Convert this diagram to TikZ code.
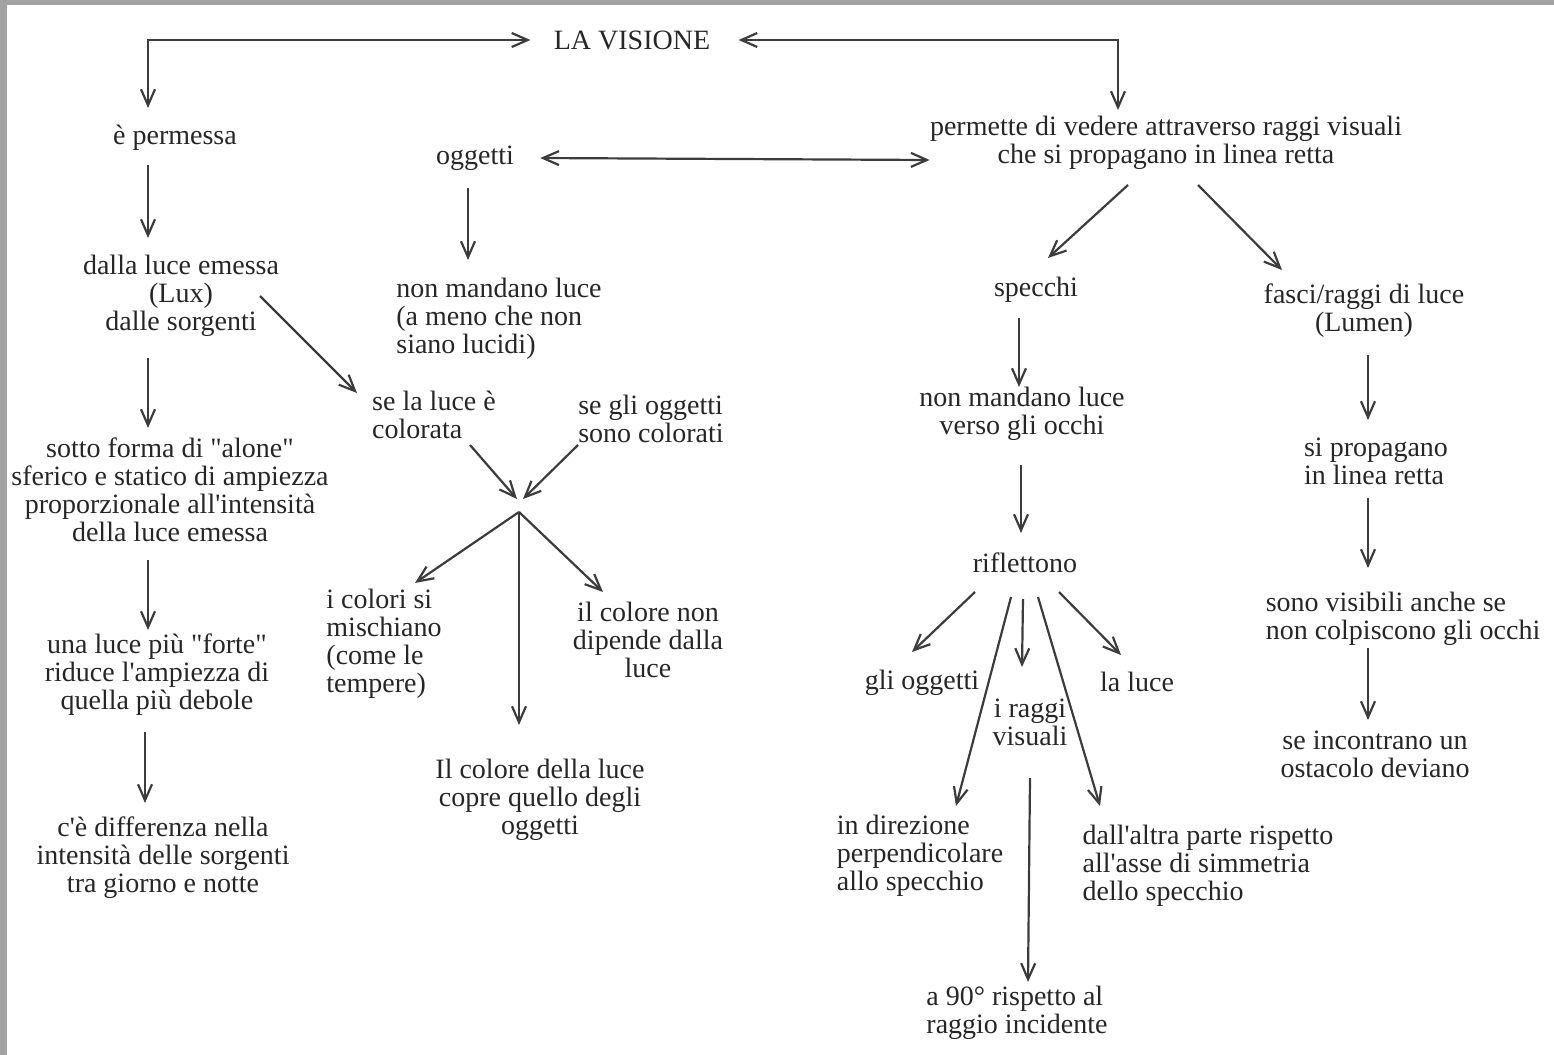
\documentclass[tikz,border=0pt]{standalone}
\usepackage{fontspec}
\setmainfont{Liberation Serif}[Ligatures=TeXOff]
\usepackage{tikz}
\usetikzlibrary{arrows.meta,calc}
\definecolor{visInk}{HTML}{262626}
\definecolor{visLine}{HTML}{3C3C3C}
\definecolor{visFrame}{HTML}{A3A3A3}
\tikzset{
  idea/.style     = {inner sep=0pt, text=visInk, align=center,
                     font=\fontsize{14}{14}\selectfont},
  idealeft/.style = {idea, align=left},
  link/.style     = {-{Straight Barb[length=8pt,width=7pt]}, line width=1.1pt,
                     draw=visLine},
  duallink/.style = {{Straight Barb[length=8pt,width=7pt]}-{Straight Barb[length=8pt,width=7pt]},
                     line width=1.1pt, draw=visLine},
}

\begin{document}
\begin{tikzpicture}[x=0.5pt, y=-0.5pt]
  \useasboundingbox (0,0) rectangle (1554,1055);
  \fill[visFrame] (0,0) rectangle (7,1055);
  \fill[visFrame] (0,0) rectangle (1554,5);

  % top and the three columns
  \node[idea] (vis)   at (632,40)  {LA VISIONE};
  \node[idea] (perm)  at (175,138) {è permessa};
  \node[idea] (ogg)   at (475,158) {oggetti};
  \node[idea] (raggi) at (1166,143)
    {permette di vedere attraverso raggi visuali\\che si propagano in linea retta};

  \node[idea] (dalla) at (181,296) {dalla luce emessa\\(Lux)\\dalle sorgenti};
  \node[idea] (alone) at (170,490)
    {sotto forma di "alone"\\sferico e statico di ampiezza\\proporzionale all'intensità\\della luce emessa};
  \node[idea] (forte) at (157,675)
    {una luce più "forte"\\riduce l'ampiezza di\\quella più debole};
  \node[idea] (diff)  at (163,858)
    {c'è differenza nella\\intensità delle sorgenti\\tra giorno e notte};

  \node[idealeft] (nonm)  at (499,319) {non mandano luce\\(a meno che non\\siano lucidi)};
  \node[idealeft] (secol) at (434,415) {se la luce è\\colorata};
  \node[idealeft] (seogg) at (651,419) {se gli oggetti\\sono colorati};
  \coordinate (mix) at (519,512);
  \node[idealeft] (misch) at (384,644) {i colori si\\mischiano\\(come le\\tempere)};
  \node[idea] (dip)   at (648,640) {il colore non\\dipende dalla\\luce};
  \node[idea] (copre) at (540,800) {Il colore della luce\\copre quello degli\\oggetti};

  \node[idea] (spec)   at (1036,290) {specchi};
  \node[idea] (verso)  at (1022,414) {non mandano luce\\verso gli occhi};
  \node[idea] (rifl)   at (1025,563) {riflettono};
  \node[idea] (glio)   at (922,683)  {gli oggetti};
  \node[idea] (laluce) at (1137,682) {la luce};
  \node[idea] (irv)    at (1030,722) {i raggi\\visuali};
  \node[idealeft] (perp)    at (920,856)  {in direzione\\perpendicolare\\allo specchio};
  \node[idealeft] (asse)    at (1208,866) {dall'altra parte rispetto\\all'asse di simmetria\\dello specchio};
  \node[idealeft] (novanta) at (1017,1013) {a 90° rispetto al\\raggio incidente};

  \node[idea] (fasci)     at (1364,311) {fasci/raggi di luce\\(Lumen)};
  \node[idealeft] (prop)  at (1376,461) {si propagano\\in linea retta};
  \node[idealeft] (visib) at (1403,619) {sono visibili anche se\\non colpiscono gli occhi};
  \node[idea] (ost)       at (1375,754) {se incontrano un\\ostacolo deviano};

  % connectors
  \draw[duallink] ($(vis.west)+(-23,0)$) -| ($(perm)+(-27,-30)$);
  \draw[duallink] ($(vis.east)+(28,0)$) -| ($(raggi)+(-48,-33)$);
  \draw[duallink] ($(ogg.east)+(26,0)$) -- ($(raggi.west)+(0,17)$);

  \draw[link] ($(perm)+(-27,27)$)  -- ($(dalla)+(-33,-58)$);
  \draw[link] ($(dalla)+(79,0)$)   -- ($(secol)+(-77,-22)$);
  \draw[link] ($(dalla)+(-33,62)$) -- ($(alone)+(-22,-62)$);
  \draw[link] ($(alone)+(-22,70)$) -- ($(forte)+(-9,-45)$);
  \draw[link] ($(forte)+(-12,57)$) -- ($(diff)+(-18,-55)$);

  \draw[link] ($(ogg)+(-7,30)$)     -- ($(nonm)+(-31,-59)$);
  \draw[link] ($(secol)+(36,30)$)   -- ($(mix)+(-2,-13)$);
  \draw[link] ($(seogg)+(-73,26)$)  -- ($(mix)+(4,-13)$);
  \draw[link] (mix) -- ($(misch)+(31,-61)$);
  \draw[link] (mix) -- ($(copre)+(-21,-75)$);
  \draw[link] (mix) -- ($(dip)+(-45,-48)$);

  \draw[link] ($(raggi)+(-38,42)$) -- ($(spec)+(12,-32)$);
  \draw[link] ($(raggi)+(32,42)$)  -- ($(fasci)+(-82,-41)$);
  \draw[link] ($(spec)+(-17,28)$)  -- ($(verso)+(-3,-27)$);
  \draw[link] ($(verso)+(-1,51)$)  -- ($(rifl)+(-4,-30)$);
  \draw[link] ($(rifl)+(-50,29)$)  -- ($(glio)+(-10,-31)$);
  \draw[link] ($(rifl)+(-14,34)$)  -- ($(perp)+(36,-50)$);
  \draw[link] ($(rifl)+(-2,36)$)   -- ($(irv)+(-8,-55)$);
  \draw[link] ($(rifl)+(13,34)$)   -- ($(asse)+(-108,-60)$);
  \draw[link] ($(rifl)+(34,29)$)   -- ($(laluce)+(-16,-27)$);
  \draw[link] ($(irv)+(0,56)$)     -- ($(novanta)+(11,-31)$);

  \draw[link] ($(fasci)+(4,44)$)   -- ($(prop)+(-8,-41)$);
  \draw[link] ($(prop)+(-8,37)$)   -- ($(visib)+(-35,-51)$);
  \draw[link] ($(visib)+(-35,29)$) -- ($(ost)+(-7,-34)$);
\end{tikzpicture}
\end{document}
